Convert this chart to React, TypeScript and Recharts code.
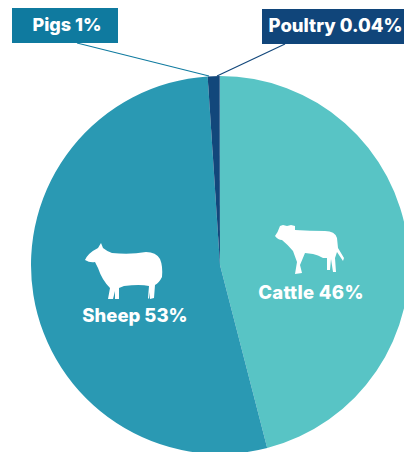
import React from "react";
import { PieChart, Pie, Cell } from "recharts";

const species = ["Cattle", "Sheep", "Pigs", "Poultry"];
const shares = [46, 53, 1, 0.04];
const sliceColors = ["#58C4C5", "#2A99B3", "#12477B", "#12477B"];

const rows = species.map((name, i) => ({ name, value: shares[i] }));

const FONT = "Inter, 'Open Sans', sans-serif";

const SHEEP_PATH =
  "M85 260 Q88 253 98 248 L101 243 L103 248 Q108 252 112 253 Q130 255 146 252 Q156 252 160 259 Q163 266 162 277 Q159 283 155 285 L154 298 L150 299 L150 292 L149 299 L148 298 L149 286 Q140 284 124 286 L119 288 L119 299 L115 299 L115 291 L113 299 L108 299 L110 288 Q102 280 98 268 L95 262 Q90 263 85 260 Z";

const COW_PATH =
  "M275 236 Q278 232 280 226 L283 225 L287 226 L291 225 L295 226 L295 230 Q310 231 325 231 Q335 231 337 238 L338 248 L344 258 L343 261 L337 252 L335 258 L336 272 L333 272 L331 259 L330 270 L327 270 L327 258 L323 258 Q318 255 313 254 L305 253 L300 265 L302 273 L295 274 L297 262 L293 251 Q287 244 282 240 Q278 240 275 236 Z";

type LabelProps = { name?: string; value?: number; index?: number };

// Boxed callouts for the two thin slices, plain white captions for the large ones.
function SliceLabel({ name, value }: LabelProps) {
  const caption = `${name} ${value}%`;
  const textStyle = { fontFamily: FONT, fontWeight: 800, fill: "#fff" };
  if (name === "Cattle") {
    return (
      <g>
        <path d={COW_PATH} fill="#fff" />
        <text x={311} y={299} textAnchor="middle" fontSize={18.5} letterSpacing={0.3} {...textStyle}>{caption}</text>
      </g>
    );
  }
  if (name === "Sheep") {
    return (
      <g>
        <path d={SHEEP_PATH} fill="#fff" />
        <text x={135} y={322} textAnchor="middle" fontSize={18.5} {...textStyle}>{caption}</text>
      </g>
    );
  }
  if (name === "Pigs") {
    return (
      <g>
        <line x1={77} y1={43} x2={209} y2={76} stroke="#0F7A9F" strokeWidth={1.2} />
        <rect x={12} y={8} width={106} height={35} fill="#0F7A9F" />
        <text x={67} y={31} textAnchor="middle" fontSize={18} {...textStyle}>{caption}</text>
      </g>
    );
  }
  return (
    <g>
      <line x1={285} y1={44} x2={217} y2={76} stroke="#12477B" strokeWidth={1.2} />
      <rect x={262} y={9} width={142} height={35} fill="#10457A" />
      <text x={335.5} y={32} textAnchor="middle" fontSize={18.5} {...textStyle}>{caption}</text>
    </g>
  );
}

export default function App() {
  return (
    <div style={{ position: "absolute", left: 0, top: 0, width: 404, height: 452, overflow: "hidden", background: "#fff" }}>
      <PieChart width={404} height={452} margin={{ top: 0, right: 0, bottom: 0, left: 0 }}>
        <Pie
          data={rows}
          dataKey="value"
          nameKey="name"
          cx={220}
          cy={265}
          innerRadius={0}
          outerRadius={189}
          startAngle={90}
          endAngle={-270}
          stroke="none"
          isAnimationActive={false}
          labelLine={false}
          label={(props: LabelProps) => <SliceLabel {...props} />}
        >
          {rows.map((row, i) => (
            <Cell key={row.name} fill={sliceColors[i]} />
          ))}
        </Pie>
      </PieChart>
    </div>
  );
}
